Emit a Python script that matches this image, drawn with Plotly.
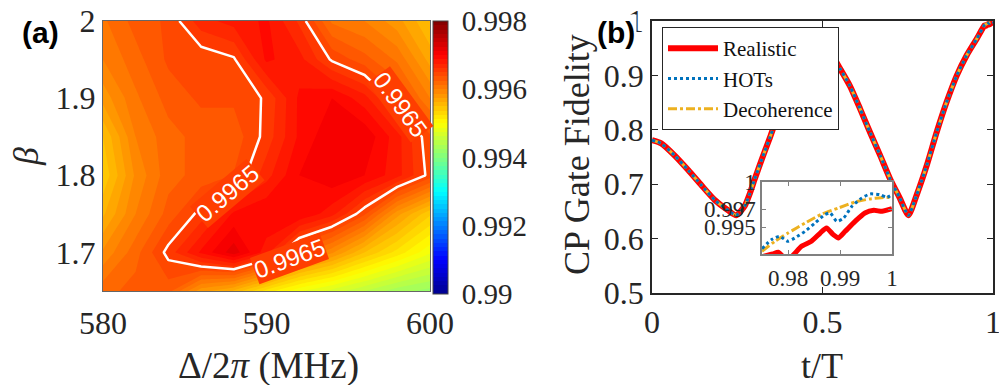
import plotly.graph_objects as go

# the page body adds an 8px margin, so the figure is 8px smaller and positions shift
OFF = 8
W, H = 1007 - OFF, 385 - OFF
SERIF = "Liberation Serif"
SANS = "Liberation Sans"
INK = "#262626"

# ---- panel (a): fidelity map ----
delta = [580, 582, 584, 586, 588, 590, 592, 594, 596, 598, 600]
beta = [1.65, 1.70, 1.75, 1.80, 1.85, 1.90, 1.95, 2.00]
fid = [
    [0.9962, 0.9963, 0.9963, 0.9958, 0.9956, 0.9952, 0.9949, 0.9947, 0.9945, 0.9943, 0.9942],
    [0.9959, 0.9962, 0.99655, 0.9969, 0.9972, 0.9968, 0.9962, 0.9959, 0.9955, 0.9952, 0.9949],
    [0.9956, 0.9960, 0.9963, 0.99655, 0.9969, 0.9970, 0.9970, 0.9968, 0.9964, 0.9958, 0.9954],
    [0.9954, 0.9959, 0.9962, 0.9963, 0.99638, 0.9967, 0.9970, 0.9971, 0.9970, 0.9968, 0.99645],
    [0.9955, 0.9960, 0.9962, 0.9963, 0.9963, 0.99655, 0.9969, 0.9971, 0.9971, 0.9968, 0.9964],
    [0.9958, 0.9961, 0.9963, 0.9964, 0.9964, 0.99652, 0.9969, 0.9970, 0.9968, 0.9964, 0.9960],
    [0.9960, 0.9962, 0.9964, 0.9964, 0.99648, 0.9969, 0.9968, 0.99648, 0.9963, 0.9961, 0.9957],
    [0.9961, 0.9963, 0.9964, 0.9967, 0.9968, 0.9969, 0.9966, 0.9961, 0.9960, 0.9958, 0.9955],
]
level = 0.9965
# where the 0.9965 labels sit on the contour (delta, beta, angle)
label_delta = [587.6, 591.4, 598.2]
label_beta = [1.776, 1.692, 1.892]
label_angle = [-40, -20, 54]
cbar_vals = [0.99, 0.992, 0.994, 0.996, 0.998]
cbar_text = ["0.99", "0.992", "0.994", "0.996", "0.998"]

# ---- panel (b): fidelity vs time ----
t_main = [0, 0.027, 0.066, 0.106, 0.145, 0.184, 0.223, 0.247, 0.272, 0.287, 0.301,
          0.317, 0.331, 0.346, 0.375, 0.39, 0.43, 0.47, 0.5, 0.53, 0.551, 0.581,
          0.610, 0.639, 0.669, 0.698, 0.727, 0.752, 0.776, 0.806, 0.835, 0.864,
          0.894, 0.923, 0.952]
f_main = [0.781, 0.775, 0.753, 0.726, 0.698, 0.671, 0.652, 0.643, 0.660, 0.683, 0.709,
          0.737, 0.761, 0.786, 0.836, 0.85, 0.90, 0.94, 0.955, 0.935, 0.913, 0.880,
          0.839, 0.796, 0.753, 0.710, 0.674, 0.643, 0.680, 0.735, 0.796, 0.851,
          0.900, 0.937, 0.967]

t_real = [0.975, 0.9771, 0.9781, 0.9791, 0.9801, 0.9812, 0.9826, 0.9845, 0.9862,
          0.9874, 0.9887, 0.9897, 0.9910, 0.9929, 0.9948, 0.9965, 0.9981, 1.0]
f_real = [0.9917, 0.9920, 0.9922, 0.9917, 0.9914, 0.9920, 0.99286, 0.99341, 0.99433,
          0.99489, 0.99415, 0.99378, 0.99452, 0.99563, 0.99656, 0.99685, 0.99674, 0.99703]

t_hots = [0.975, 0.9768, 0.9784, 0.9800, 0.9813, 0.9833, 0.9852, 0.9871, 0.9881,
          0.9894, 0.9907, 0.9923, 0.9942, 0.9958, 0.9977, 0.9990, 1.0]
f_hots = [0.99259, 0.99359, 0.99396, 0.99341, 0.99378, 0.99452, 0.99544, 0.99637, 0.99656,
          0.99563, 0.99600, 0.99730, 0.99822, 0.99867, 0.99859, 0.99830, 0.99859]

t_deco = [0.975, 0.9775, 0.9800, 0.9833, 0.9865, 0.9897, 0.9929, 0.9961, 1.0]
f_deco = [0.99230, 0.99341, 0.99433, 0.99544, 0.99644, 0.99711, 0.99778, 0.99815, 0.99833]

jet = [[0, "rgb(0,0,143)"], [0.125, "rgb(0,0,255)"], [0.375, "rgb(0,255,255)"],
       [0.625, "rgb(255,255,0)"], [0.875, "rgb(255,0,0)"], [1, "rgb(128,0,0)"]]


def fx(p):
    return (p - OFF) / W


def fy(p):
    return 1 - (p - OFF) / H


fig = go.Figure()

fig.add_trace(go.Contour(
    x=delta, y=beta, z=fid, colorscale=jet, zmin=0.99, zmax=0.998, zauto=False,
    autocontour=False, showlegend=False,
    contours=dict(start=0.99, end=0.998, size=0.000125, coloring="fill", showlines=False),
    line=dict(width=0, smoothing=0), hoverinfo="skip",
    colorbar=dict(
        x=fx(433), xanchor="left", y=fy(21), yanchor="top",
        len=273, lenmode="pixels", thickness=15, thicknessmode="pixels",
        outlinewidth=1, outlinecolor="#444", xpad=0, ypad=0,
        tickvals=cbar_vals, ticktext=cbar_text, ticks="outside", ticklen=8,
        tickcolor="rgba(0,0,0,0)", ticklabeloverflow="allow",
        tickfont=dict(family=SERIF, size=29, color=INK),
    ),
    xaxis="x", yaxis="y",
))
fig.add_trace(go.Contour(
    x=delta, y=beta, z=fid, autocontour=False, showscale=False, showlegend=False,
    hoverinfo="skip",
    contours=dict(start=level, end=level, size=0.001, coloring="none", showlabels=False),
    line=dict(color="white", width=2.5, smoothing=0),
    xaxis="x", yaxis="y",
))

# main curves: red underneath, yellow, blue dots on top
fig.add_trace(go.Scatter(
    x=t_main + t_real, y=f_main + f_real, mode="lines", name="Realistic",
    line=dict(color="#FF0000", width=6, shape="spline", smoothing=0.6),
    legendrank=1, xaxis="x2", yaxis="y2",
))
fig.add_trace(go.Scatter(
    x=t_main + t_deco, y=f_main + f_deco, mode="lines", name="Decoherence",
    line=dict(color="#EDB120", width=3, dash="dashdot", shape="spline", smoothing=0.6),
    legendrank=3, xaxis="x2", yaxis="y2",
))
fig.add_trace(go.Scatter(
    x=t_main + t_hots, y=f_main + f_hots, mode="lines", name="HOTs",
    line=dict(color="#0072BD", width=3, dash="dot", shape="spline", smoothing=0.6),
    legendrank=2, xaxis="x2", yaxis="y2",
))

# inset
fig.add_trace(go.Scatter(
    x=t_real, y=f_real, mode="lines", showlegend=False,
    line=dict(color="#FF0000", width=5, shape="spline", smoothing=0.6),
    xaxis="x3", yaxis="y3",
))
fig.add_trace(go.Scatter(
    x=t_deco, y=f_deco, mode="lines", showlegend=False,
    line=dict(color="#EDB120", width=3, dash="dashdot", shape="spline", smoothing=0.6),
    xaxis="x3", yaxis="y3",
))
fig.add_trace(go.Scatter(
    x=t_hots, y=f_hots, mode="lines", showlegend=False,
    line=dict(color="#0072BD", width=3, dash="dot", shape="spline", smoothing=0.6),
    xaxis="x3", yaxis="y3",
))

tick_font = dict(family=SERIF, size=32, color=INK)


def paper_text(text, px, py, size, family=SERIF, angle=0, color=INK, **kw):
    return dict(text=text, x=fx(px), y=fy(py), xref="paper", yref="paper",
                xanchor="center", yanchor="middle", showarrow=False, textangle=angle,
                font=dict(family=family, size=size, color=color), **kw)


annotations = [
    paper_text("<b>(a)</b>", 40, 33, 30, family=SANS, color="black"),
    paper_text("<b>(b)</b>", 616, 33, 30, family=SANS, color="black", bgcolor="white"),
    paper_text("Δ/2<i>π</i> (MHz)", 268, 366, 37),
    paper_text("<i>β</i>", 26, 157, 36, angle=-90),
    paper_text("t/T", 822, 366, 36),
    paper_text("CP Gate Fidelity", 577, 155, 36, angle=-90),
]
for lx, ly, ang in zip(label_delta, label_beta, label_angle):
    annotations.append(dict(
        text=f"{level:.4f}", x=lx, y=ly, xref="x", yref="y", showarrow=False,
        textangle=ang, bgcolor="rgb(255,62,0)", borderpad=0,
        font=dict(family=SANS, size=24, color="white"),
    ))

fig.update_layout(
    width=W, height=H,
    margin=dict(l=0, r=0, t=0, b=0, autoexpand=False),
    paper_bgcolor="white", plot_bgcolor="white",
    showlegend=True,
    legend=dict(
        x=fx(662), y=fy(27), xanchor="left", yanchor="top",
        bgcolor="white", bordercolor="#262626", borderwidth=1,
        font=dict(family=SERIF, size=21, color="#111"),
        tracegroupgap=0, itemwidth=50,
    ),
    xaxis=dict(
        domain=[fx(103), fx(430)], range=[580, 600], anchor="y",
        tickvals=[580, 590, 600], ticktext=["580", "590", "600"],
        showline=True, mirror=True, linecolor="#666", linewidth=1,
        ticks="", ticklabelstandoff=4, ticklabeloverflow="allow",
        showgrid=False, zeroline=False, tickfont=tick_font,
    ),
    yaxis=dict(
        domain=[fy(291), fy(21)], range=[1.65, 2.0], anchor="x",
        tickvals=[1.7, 1.8, 1.9, 2.0], ticktext=["1.7", "1.8", "1.9", "2"],
        showline=True, mirror=True, linecolor="#666", linewidth=1,
        ticks="", ticklabeloverflow="allow",
        showgrid=False, zeroline=False, tickfont=tick_font,
    ),
    xaxis2=dict(
        domain=[fx(652), fx(993)], range=[0, 1], anchor="y2",
        tickvals=[0, 0.5, 1], ticktext=["0", "0.5", "1"],
        showline=True, mirror="ticks", linecolor=INK, linewidth=1.5,
        ticks="inside", ticklen=6, tickcolor=INK, ticklabeloverflow="allow",
        showgrid=False, zeroline=False, tickfont=tick_font,
    ),
    yaxis2=dict(
        domain=[fy(293), fy(21)], range=[0.5, 1.0], anchor="x2",
        tickvals=[0.5, 0.6, 0.7, 0.8, 0.9, 1.0],
        ticktext=["0.5", "0.6", "0.7", "0.8", "0.9", "1"],
        showline=True, mirror="ticks", linecolor=INK, linewidth=1.5,
        ticks="inside", ticklen=6, tickcolor=INK, ticklabeloverflow="allow",
        showgrid=False, zeroline=False, tickfont=tick_font,
    ),
    xaxis3=dict(
        domain=[fx(762), fx(892)], range=[0.975, 1.0], anchor="y3",
        tickvals=[0.98, 0.99, 1.0], ticktext=["0.98", "0.99", "1"],
        showline=True, mirror="ticks", linecolor="#808080", linewidth=1.5,
        ticks="inside", ticklen=4, tickcolor="#808080", ticklabelstandoff=3,
        showgrid=False, zeroline=False,
        tickfont=dict(family=SERIF, size=23, color=INK),
    ),
    yaxis3=dict(
        domain=[fy(254), fy(182)], range=[0.992, 1.0], anchor="x3",
        tickvals=[0.995, 0.997, 1.0], ticktext=["0.995", "0.997", "1"],
        showline=True, mirror="ticks", linecolor="#808080", linewidth=1.5,
        ticks="inside", ticklen=4, tickcolor="#808080", ticklabeloverflow="allow",
        showgrid=False, zeroline=False,
        tickfont=dict(family=SERIF, size=23, color=INK),
    ),
    annotations=annotations,
)

fig.write_html("out.html")
